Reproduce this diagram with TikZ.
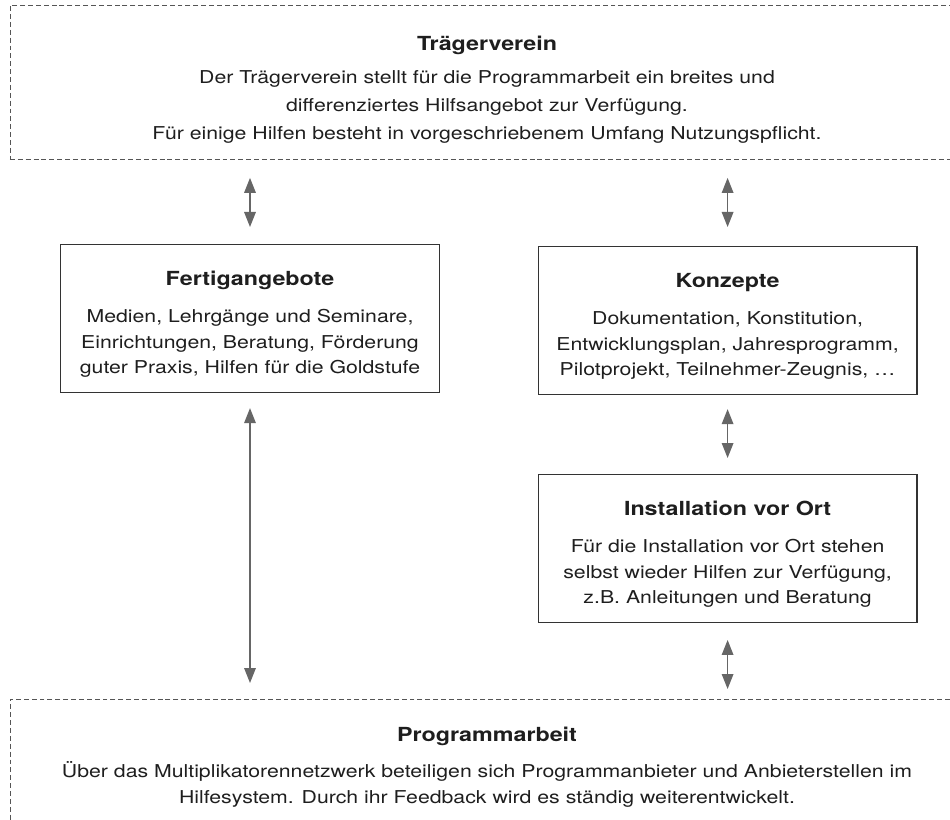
\documentclass[tikz,border=0pt]{standalone}
\usepackage{fontspec}
\setmainfont{TeX Gyre Heros}[FakeStretch=1.2]
\usepackage{xcolor}
\usepackage{tikz}
\usetikzlibrary{arrows.meta,positioning,calc}

\definecolor{textgray}{HTML}{1E1E1E}
\definecolor{linegray}{HTML}{333333}
\definecolor{dashgray}{HTML}{555555}
\definecolor{arrowgray}{HTML}{666666}

\newcommand{\topgap}[1]{\rule{0pt}{#1}}
\newcommand{\botgap}[1]{\rule[-#1]{0pt}{#1}}
\newcommand{\boxtitle}[1]{{\fontsize{13.8pt}{18.1pt}\selectfont\bfseries #1}}

\tikzset{
	bodytext/.style={font=\fontsize{12.6pt}{18.1pt}\selectfont, text=textgray, align=center, inner ysep=0pt},
	infobox/.style={bodytext, draw=linegray, line width=0.9pt, minimum width=9.47cm, anchor=north},
	areabox/.style={bodytext, draw=dashgray, line width=0.7pt, dash pattern=on 3.5pt off 2.1pt, minimum width=23.85cm, anchor=north},
	link/.style={arrowgray, line width=0.9pt, {Triangle[length=3.75mm,width=2.9mm]}-{Triangle[length=3.75mm,width=2.9mm]}, shorten <=0.4cm, shorten >=0.4cm},
}

\begin{document}
\begin{tikzpicture}
	\useasboundingbox (0,0) rectangle (23.75,-20.5);
	% Rahmen oben und unten
	\node[areabox, font=\fontsize{12.6pt}{19.9pt}\selectfont] (traeger) at (12.175,-0.125) {\topgap{32pt}\boxtitle{Trägerverein}\\[3.6pt]
		Der Trägerverein stellt für die Programmarbeit ein breites und\\
		differenziertes Hilfsangebot zur Verfügung.\\
		Für einige Hilfen besteht in vorgeschriebenem Umfang Nutzungspflicht.\botgap{14.2pt}};
	\node[areabox, font=\fontsize{12.6pt}{18.5pt}\selectfont] (programm) at (12.175,-17.475) {\topgap{29.9pt}\boxtitle{Programmarbeit}\\[7.1pt]
		Über das Multiplikatorennetzwerk beteiligen sich Programmanbieter und Anbieterstellen im\\
		Hilfesystem. Durch ihr Feedback wird es ständig weiterentwickelt.\botgap{21.3pt}};
	% Hilfen
	\node[infobox] (fertig) at (6.25,-6.1) {\topgap{29.2pt}\boxtitle{Fertigangebote}\\[8.2pt]
		Medien, Lehrgänge und Seminare,\\
		Einrichtungen, Beratung, Förderung\\
		guter Praxis, Hilfen für die Goldstufe\botgap{13.5pt}};
	\node[infobox] (konzepte) at (18.19,-6.15) {\topgap{29.2pt}\boxtitle{Konzepte}\\[8.2pt]
		Dokumentation, Konstitution,\\
		Entwicklungsplan, Jahresprogramm,\\
		Pilotprojekt, Teilnehmer-Zeugnis, \dots\botgap{13.5pt}};
	\node[infobox] (install) at (18.19,-11.85) {\topgap{29.2pt}\boxtitle{Installation vor Ort}\\[8.2pt]
		Für die Installation vor Ort stehen\\
		selbst wieder Hilfen zur Verfügung,\\
		z.B. Anleitungen und Beratung\botgap{13.5pt}};
	% Pfeile
	\draw[link, shorten <=0.45cm, shorten >=0.425cm] (fertig.north |- traeger.south) -- (fertig.north);
	\draw[link, shorten <=0.45cm, shorten >=0.475cm] (konzepte.north |- traeger.south) -- (konzepte.north);
	\draw[link, shorten <=0.375cm, shorten >=0.4cm] (fertig.south) -- (fertig.south |- programm.north);
	\draw[link, shorten <=0.35cm, shorten >=0.4cm] (konzepte.south) -- (install.north);
	\draw[link, shorten <=0.42cm, shorten >=0.25cm] (install.south) -- (install.south |- programm.north);
\end{tikzpicture}
\end{document}
